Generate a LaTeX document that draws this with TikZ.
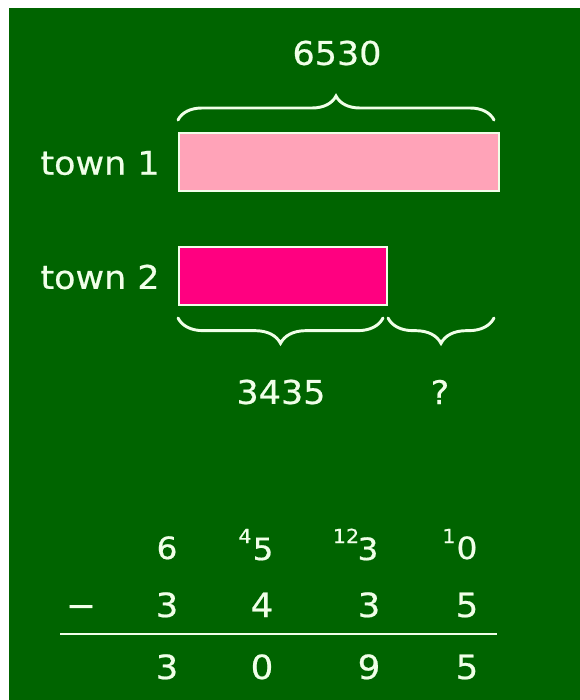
\documentclass[tikz,border=0pt]{standalone}
\usepackage{fontspec}
\newfontfamily\vf[FakeStretch=1.07,FakeBold=0.6]{DejaVu Sans}
\usetikzlibrary{decorations.pathreplacing}
\definecolor{bg}{RGB}{0,100,0}
\definecolor{ink}{RGB}{240,255,232}
\definecolor{pinkA}{RGB}{255,163,184}
\definecolor{pinkB}{RGB}{255,0,128}
\tikzset{
  lbl/.style={text=ink, font=\vf\fontsize{24.5}{28}\selectfont, inner sep=0},
  dig/.style={text=ink, font=\vf\fontsize{23}{27}\selectfont, anchor=base, inner sep=0},
  digb/.style={text=ink, font=\vf\fontsize{25}{29}\selectfont, anchor=base, inner sep=0},
  supd/.style={text=ink, font=\vf\fontsize{14.5}{17}\selectfont, anchor=base, inner sep=0},
  bar/.style={draw=ink, line width=1.3pt, anchor=north west, inner sep=0},
  brc/.style={draw=ink, line width=2.2pt, line cap=round, decorate, decoration={brace, amplitude=#1}},
  brc/.default=18pt
}
\begin{document}
\begin{tikzpicture}[x=0.75pt,y=-0.75pt]
\useasboundingbox (0,0) rectangle (580,700);
\fill[white] (0,0) rectangle (580,700);
\fill[bg] (9,8) rectangle (580,700);
% bars
\node[bar, fill=pinkA, minimum width=240pt, minimum height=43.5pt] (b1) at (178,132) {};
\node[bar, fill=pinkB, minimum width=156pt, minimum height=43.5pt] (b2) at (178,246) {};
\node[lbl] (t1) at (100,163) {town 1};
\node[lbl] (t2) at (100,277) {town 2};
% braces
\coordinate (ta) at (178,120);
\coordinate (tb) at (494,120);
\draw[brc] (ta) -- (tb);
\node[lbl] (total) at (337,53) {6530};
\coordinate (la) at (178,318);
\coordinate (lb) at (383,318);
\coordinate (ra) at (388,318);
\coordinate (rb) at (494,318);
\draw[brc=19pt] (lb) -- (la);
\draw[brc=19pt] (rb) -- (ra);
\node[lbl] (known) at (281,392) {3435};
\node[lbl] (unknown) at (440,392) {?};
% subtraction
\node[dig] (a1) at (167,559) {6};
\node[dig] (a2) at (263,560) {5};
\node[dig] (a3) at (368,560) {3};
\node[dig] (a4) at (467,559) {0};
\node[supd] (s2) at (245,543) {4};
\node[supd] (s3) at (346,543) {12};
\node[supd] (s4) at (449,543) {1};
\node[digb] (m) at (81,617) {−};
\node[digb] (b1d) at (167,617) {3};
\node[digb] (b2d) at (262,617) {4};
\node[digb] (b3d) at (369,617) {3};
\node[digb] (b4d) at (467,617) {5};
\coordinate (l1) at (60,634);
\coordinate (l2) at (497,634);
\draw[ink, line width=1.4pt] (l1) -- (l2);
\node[digb] (c1) at (167,679) {3};
\node[digb] (c2) at (262,679) {0};
\node[digb] (c3) at (369,679) {9};
\node[digb] (c4) at (467,679) {5};
\end{tikzpicture}
\end{document}
